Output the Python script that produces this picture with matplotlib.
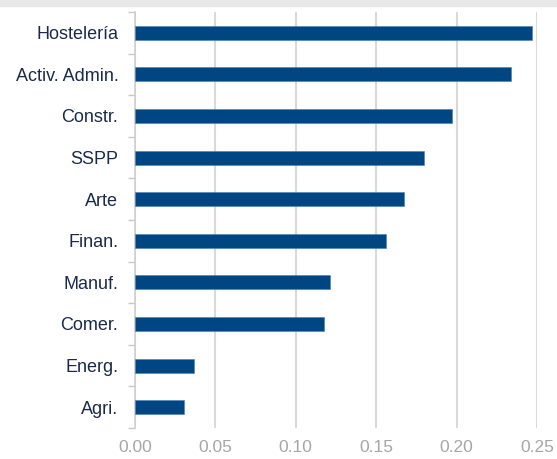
import matplotlib
matplotlib.use('Agg')
import matplotlib.pyplot as plt
from matplotlib.patches import Rectangle
import numpy as np

plt.rcParams['font.family'] = ['Liberation Sans', 'DejaVu Sans']

categories = ['Hostelería', 'Activ. Admin.', 'Constr.', 'SSPP', 'Arte',
              'Finan.', 'Manuf.', 'Comer.', 'Energ.', 'Agri.']
values = [0.247, 0.234, 0.197, 0.180, 0.167, 0.156, 0.121, 0.1175, 0.0367, 0.0305]
xticks = [0.00, 0.05, 0.10, 0.15, 0.20, 0.25]

fig = plt.figure(figsize=(5.57, 4.59), dpi=100)
fig.patches.append(Rectangle((0, 1 - 6 / 459), 1, 6 / 459, transform=fig.transFigure,
                             color='#E8E8E8', zorder=0))
ax = fig.add_axes([135 / 557, 1 - 428 / 459, 402 / 557, 416 / 459])

pos = np.arange(len(categories))
ax.barh(pos, values, height=0.34, color='#004683', edgecolor='#4A7DB0', linewidth=0.4, zorder=3)

ax.set_ylim(len(categories) - 0.5, -0.5)
ax.set_xlim(0, 0.25)
ax.set_yticks(pos)
ax.set_yticklabels(categories, fontsize=13, color='#1B2A4A')
ax.set_yticks(np.arange(-0.5, len(categories), 1), minor=True)
ax.tick_params(axis='y', which='major', length=0, pad=12)
ax.tick_params(axis='y', which='minor', length=5, color='#C8C8C8', width=1)

ax.set_xticks(xticks)
ax.set_xticklabels(['%.2f' % t for t in xticks], fontsize=12.5, color='#A6A6A6')
ax.tick_params(axis='x', length=0, pad=9)
ax.grid(axis='x', color='#D9D9D9', linewidth=1.5, zorder=0)

for s in ['top', 'right', 'bottom']:
    ax.spines[s].set_visible(False)
ax.spines['left'].set_color('#D0D0D0')
ax.spines['left'].set_linewidth(1.2)

fig.savefig('out.png', dpi=100)
